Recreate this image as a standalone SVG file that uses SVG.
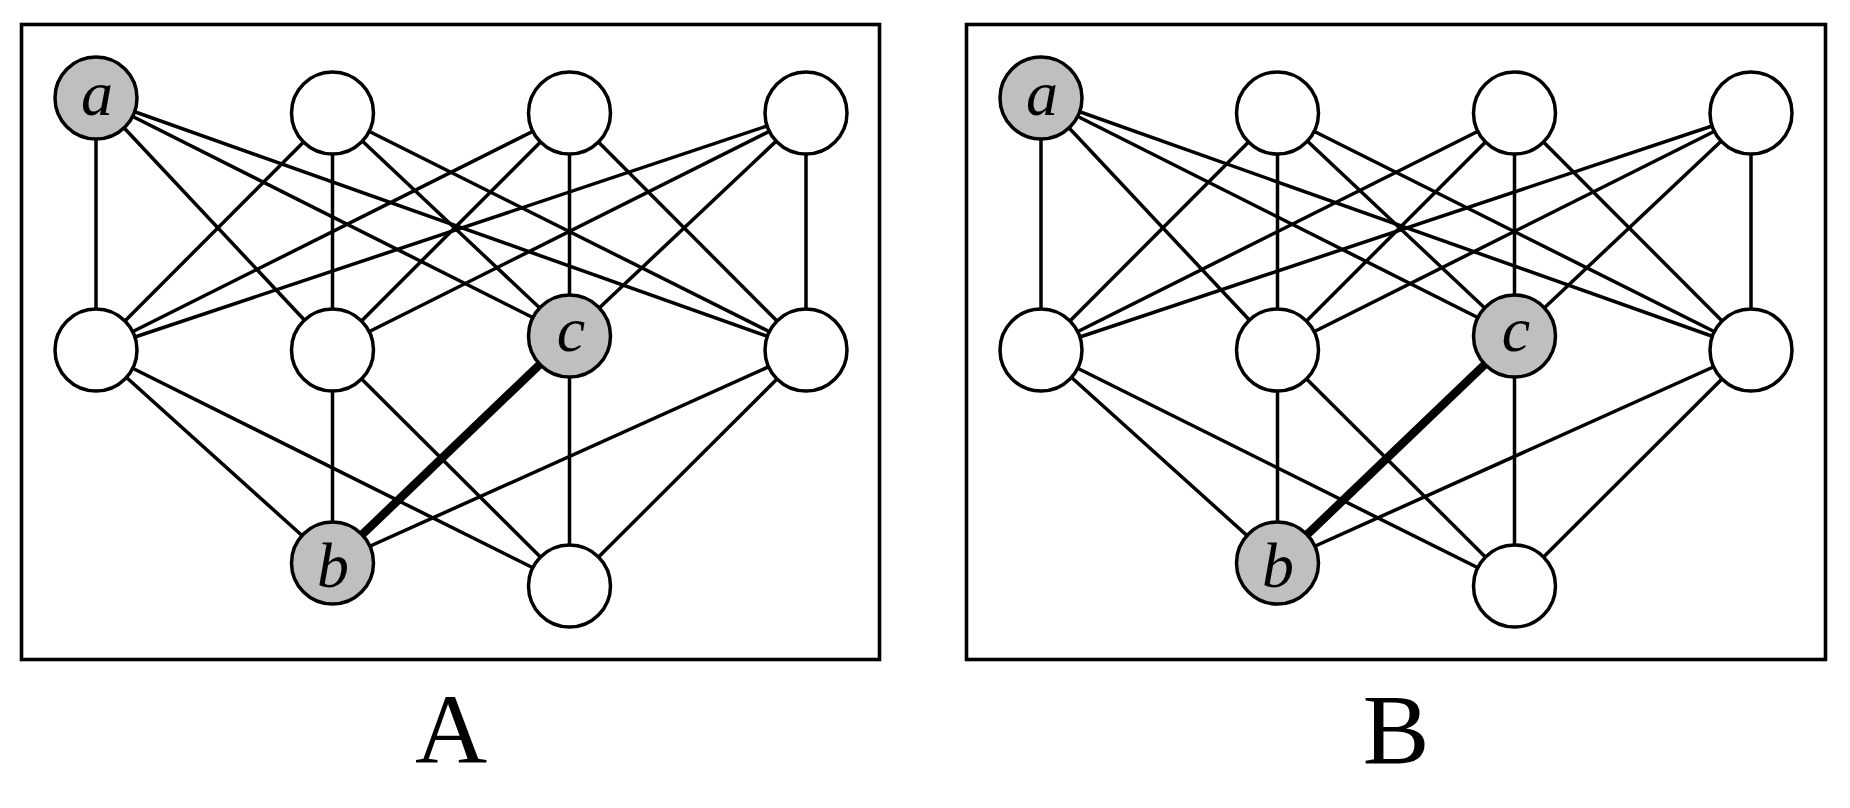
<svg xmlns="http://www.w3.org/2000/svg" width="1850" height="808" viewBox="0 0 1850 808">
<style>
.frame{fill:none;stroke:#000;stroke-width:3.6}
.e{stroke:#000;stroke-width:3.5;fill:none}
.thick{stroke:#000;stroke-width:8.5;fill:none}
.n{fill:#fff;stroke:#000;stroke-width:3.5}
.g{fill:#bfbfbf;stroke:#000;stroke-width:3.5}
.lbl{font-family:"Liberation Serif","DejaVu Serif",serif;font-style:italic;font-size:64px;text-anchor:middle;fill:#000}
.cap{font-family:"Liberation Serif","DejaVu Serif",serif;font-size:100px;text-anchor:middle;fill:#000}
</style>
<rect width="1850" height="808" fill="#fff"/>

<g id="panelA">
  <rect class="frame" x="21.5" y="24.5" width="858" height="635"/>
  <g id="A-connectors">
    <line class="e" x1="96" y1="98" x2="96" y2="350"/>
    <line class="e" x1="96" y1="98" x2="332.5" y2="350"/>
    <line class="e" x1="96" y1="98" x2="569.5" y2="336"/>
    <line class="e" x1="96" y1="98" x2="806" y2="350"/>
    <line class="e" x1="332.5" y1="113" x2="96" y2="350"/>
    <line class="e" x1="332.5" y1="113" x2="332.5" y2="350"/>
    <line class="e" x1="332.5" y1="113" x2="569.5" y2="336"/>
    <line class="e" x1="332.5" y1="113" x2="806" y2="350"/>
    <line class="e" x1="569.5" y1="113" x2="96" y2="350"/>
    <line class="e" x1="569.5" y1="113" x2="332.5" y2="350"/>
    <line class="e" x1="569.5" y1="113" x2="569.5" y2="336"/>
    <line class="e" x1="569.5" y1="113" x2="806" y2="350"/>
    <line class="e" x1="806" y1="113" x2="96" y2="350"/>
    <line class="e" x1="806" y1="113" x2="332.5" y2="350"/>
    <line class="e" x1="806" y1="113" x2="569.5" y2="336"/>
    <line class="e" x1="806" y1="113" x2="806" y2="350"/>
    <line class="e" x1="96" y1="350" x2="332.5" y2="563"/>
    <line class="e" x1="96" y1="350" x2="569.5" y2="586"/>
    <line class="e" x1="332.5" y1="350" x2="332.5" y2="563"/>
    <line class="e" x1="332.5" y1="350" x2="569.5" y2="586"/>
    <line class="thick" x1="569.5" y1="336" x2="332.5" y2="563"/>
    <line class="e" x1="569.5" y1="336" x2="569.5" y2="586"/>
    <line class="e" x1="806" y1="350" x2="332.5" y2="563"/>
    <line class="e" x1="806" y1="350" x2="569.5" y2="586"/>
  </g>
  <g id="A-a"><circle class="g" cx="96" cy="98" r="41"/><text class="lbl" x="97" y="115">a</text></g>
  <g id="A-t2"><circle class="n" cx="332.5" cy="113" r="41"/></g>
  <g id="A-t3"><circle class="n" cx="569.5" cy="113" r="41"/></g>
  <g id="A-t4"><circle class="n" cx="806" cy="113" r="41"/></g>
  <g id="A-m1"><circle class="n" cx="96" cy="350" r="41"/></g>
  <g id="A-m2"><circle class="n" cx="332.5" cy="350" r="41"/></g>
  <g id="A-c"><circle class="g" cx="569.5" cy="336" r="41"/><text class="lbl" x="571" y="351">c</text></g>
  <g id="A-m4"><circle class="n" cx="806" cy="350" r="41"/></g>
  <g id="A-b"><circle class="g" cx="332.5" cy="563" r="41"/><text class="lbl" x="333" y="587">b</text></g>
  <g id="A-b3"><circle class="n" cx="569.5" cy="586" r="41"/></g>
  <text class="cap" x="451" y="763">A</text>
</g>

<g id="panelB" transform="translate(945,0)">
  <rect class="frame" x="21.5" y="24.5" width="859" height="635"/>
  <g id="B-connectors">
    <line class="e" x1="96" y1="98" x2="96" y2="350"/>
    <line class="e" x1="96" y1="98" x2="332.5" y2="350"/>
    <line class="e" x1="96" y1="98" x2="569.5" y2="336"/>
    <line class="e" x1="96" y1="98" x2="806" y2="350"/>
    <line class="e" x1="332.5" y1="113" x2="96" y2="350"/>
    <line class="e" x1="332.5" y1="113" x2="332.5" y2="350"/>
    <line class="e" x1="332.5" y1="113" x2="569.5" y2="336"/>
    <line class="e" x1="332.5" y1="113" x2="806" y2="350"/>
    <line class="e" x1="569.5" y1="113" x2="96" y2="350"/>
    <line class="e" x1="569.5" y1="113" x2="332.5" y2="350"/>
    <line class="e" x1="569.5" y1="113" x2="569.5" y2="336"/>
    <line class="e" x1="569.5" y1="113" x2="806" y2="350"/>
    <line class="e" x1="806" y1="113" x2="96" y2="350"/>
    <line class="e" x1="806" y1="113" x2="332.5" y2="350"/>
    <line class="e" x1="806" y1="113" x2="569.5" y2="336"/>
    <line class="e" x1="806" y1="113" x2="806" y2="350"/>
    <line class="e" x1="96" y1="350" x2="332.5" y2="563"/>
    <line class="e" x1="96" y1="350" x2="569.5" y2="586"/>
    <line class="e" x1="332.5" y1="350" x2="332.5" y2="563"/>
    <line class="e" x1="332.5" y1="350" x2="569.5" y2="586"/>
    <line class="thick" x1="569.5" y1="336" x2="332.5" y2="563"/>
    <line class="e" x1="569.5" y1="336" x2="569.5" y2="586"/>
    <line class="e" x1="806" y1="350" x2="332.5" y2="563"/>
    <line class="e" x1="806" y1="350" x2="569.5" y2="586"/>
  </g>
  <g id="B-a"><circle class="g" cx="96" cy="98" r="41"/><text class="lbl" x="97" y="115">a</text></g>
  <g id="B-t2"><circle class="n" cx="332.5" cy="113" r="41"/></g>
  <g id="B-t3"><circle class="n" cx="569.5" cy="113" r="41"/></g>
  <g id="B-t4"><circle class="n" cx="806" cy="113" r="41"/></g>
  <g id="B-m1"><circle class="n" cx="96" cy="350" r="41"/></g>
  <g id="B-m2"><circle class="n" cx="332.5" cy="350" r="41"/></g>
  <g id="B-c"><circle class="g" cx="569.5" cy="336" r="41"/><text class="lbl" x="571" y="351">c</text></g>
  <g id="B-m4"><circle class="n" cx="806" cy="350" r="41"/></g>
  <g id="B-b"><circle class="g" cx="332.5" cy="563" r="41"/><text class="lbl" x="333" y="587">b</text></g>
  <g id="B-b3"><circle class="n" cx="569.5" cy="586" r="41"/></g>
  <text class="cap" x="451" y="763">B</text>
</g>
</svg>
